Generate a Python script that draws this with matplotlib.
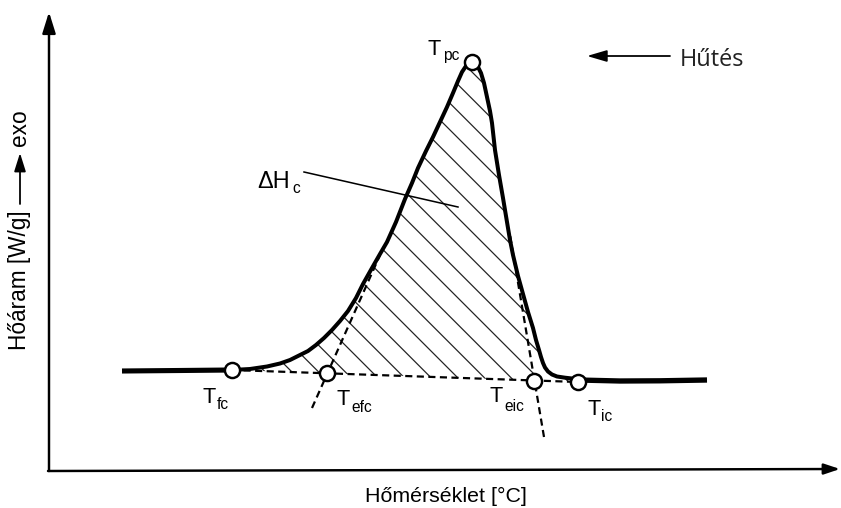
import numpy as np
import matplotlib
matplotlib.use("Agg")
import matplotlib.pyplot as plt

plt.rcParams['font.family'] = ['Liberation Sans', 'DejaVu Sans']
plt.rcParams['hatch.linewidth'] = 0.55

# ---- schematic DSC curve (schematic units, y grows downward) ----
curve_x = [122, 180, 232, 250, 267, 280, 290, 300, 308, 316, 324, 332, 340, 348,
           356, 363, 372, 380, 387, 396, 405, 412, 418, 426, 433, 440, 447, 453,
           458, 462, 466, 469, 472, 475, 478, 481, 484, 487, 490, 492, 495, 499,
           503, 507, 510, 513, 518, 523, 528, 533, 536, 539, 541, 543, 545, 548,
           552, 557, 565, 573, 578, 620, 660, 707]
curve_y = [371, 370.5, 370, 369, 366.5, 363.5, 360, 355, 351, 345, 338, 330, 321, 311,
           298, 284, 268, 254, 242, 222, 199, 183, 168, 151, 137, 122, 107, 93,
           81, 72, 66, 63, 62, 63.5, 67, 73, 83, 97, 111, 123, 150, 175,
           198, 222, 240, 255, 276, 294, 312, 328, 340, 350, 357, 363, 367.5, 371.5,
           374.5, 376.5, 377.7, 378.6, 380, 381, 380.8, 380]

# characteristic points
pt_names = ['fc', 'efc', 'eic', 'ic', 'pc']
pt_x = [232, 327.5, 534.5, 578, 472]
pt_y = [370, 373.3, 380.5, 382, 62]

# label positions (T letter and subscript)
lab_T = {'fc': (203, 403), 'efc': (337, 405), 'eic': (490, 402),
         'ic': (588, 415), 'pc': (428, 55)}
lab_sub = {'fc': (217, 409), 'efc': (351, 412), 'eic': (504, 411),
           'ic': (601, 421), 'pc': (443, 60)}

# tangent lines
tan_left_x, tan_left_y = [312, 380], [408, 255]
tan_right_x, tan_right_y = [544, 510], [437, 235]

DPI = 160
fig = plt.figure(figsize=(841 / DPI, 508 / DPI), dpi=DPI)
ax = fig.add_axes([0, 0, 1, 1])
ax.set_xlim(0, 841)
ax.set_ylim(508, 0)
ax.axis('off')

cx = np.array(curve_x, float)
cy = np.array(curve_y, float)
x0, y0 = pt_x[0], pt_y[0]
x1, y1 = pt_x[3], pt_y[3]

# hatched area between curve and baseline
m = (cx >= x0) & (cx <= x1)
poly_x = list(cx[m]) + [x1, x0]
poly_y = list(cy[m]) + [y1, y0]
ax.fill(poly_x, poly_y, facecolor='none', edgecolor='#222222', hatch='\\\\',
        linewidth=0, zorder=1)

# curve
ml = cx <= x0
mr = cx >= x1
ax.plot(cx[ml], cy[ml], color='k', lw=2.3, solid_capstyle='butt', zorder=3)
ax.plot(cx[m], cy[m], color='k', lw=1.8, solid_joinstyle='round', zorder=3)
ax.plot(cx[mr], cy[mr], color='k', lw=2.4, solid_capstyle='butt', zorder=3)

# dashed baseline and tangents
ax.plot([x0, x1], [y0, y1], color='k', lw=1.0, dashes=(3.2, 2.0), zorder=2)
ax.plot(tan_left_x, tan_left_y, color='k', lw=1.0, dashes=(3.2, 2.0), zorder=2)
ax.plot(tan_right_x, tan_right_y, color='k', lw=1.0, dashes=(3.2, 2.0), zorder=2)

# circles
ax.plot(pt_x, pt_y, 'o', ms=6.8, mfc='white', mec='k', mew=1.1, zorder=5)

# point labels
for n in pt_names:
    tx, ty = lab_T[n]
    sx, sy = lab_sub[n]
    ax.text(tx, ty, 'T', fontsize=9.8, ha='left', va='baseline', zorder=6)
    ax.text(sx, sy, n, fontsize=7.0, ha='left', va='baseline', zorder=6)

# Delta H_c label with leader line
ax.text(257, 188, 'ΔH', fontsize=10.6, ha='left', va='baseline')
ax.text(292, 193, 'c', fontsize=7.0, ha='left', va='baseline')
ax.plot([304, 458], [172, 207], color='k', lw=0.7)

# axes with arrows
ax.annotate('', xy=(49, 12), xytext=(49, 471),
            arrowprops=dict(arrowstyle='-|>,head_length=0.8,head_width=0.25',
                            lw=1.1, color='k', shrinkA=0, shrinkB=0,
                            mutation_scale=10))
ax.annotate('', xy=(840, 469), xytext=(48, 471),
            arrowprops=dict(arrowstyle='-|>,head_length=0.6,head_width=0.2',
                            lw=1.1, color='k', shrinkA=0, shrinkB=0,
                            mutation_scale=10))

# axis labels
ax.text(446, 502, 'Hőmérséklet [°C]', fontsize=9.6, ha='center', va='baseline')
ax.text(20, 350, 'Hőáram [W/g]', fontsize=10.2, rotation=90, ha='center', va='bottom')
ax.annotate('', xy=(20, 153), xytext=(20, 204),
            arrowprops=dict(arrowstyle='-|>,head_length=0.7,head_width=0.22',
                            lw=0.8, color='k', shrinkA=0, shrinkB=0,
                            mutation_scale=10))
ax.text(20, 146, 'exo', fontsize=10.2, rotation=90, ha='center', va='bottom')

# cooling direction
ax.annotate('', xy=(587, 56), xytext=(670, 56),
            arrowprops=dict(arrowstyle='-|>,head_length=0.75,head_width=0.22',
                            lw=0.8, color='k', shrinkA=0, shrinkB=0,
                            mutation_scale=10))
ax.text(680, 66, 'Hűtés', fontsize=10.6, family=['Open Sans', 'DejaVu Sans'],
        ha='left', va='baseline', color='#222222')

fig.savefig('out.png', dpi=DPI)
